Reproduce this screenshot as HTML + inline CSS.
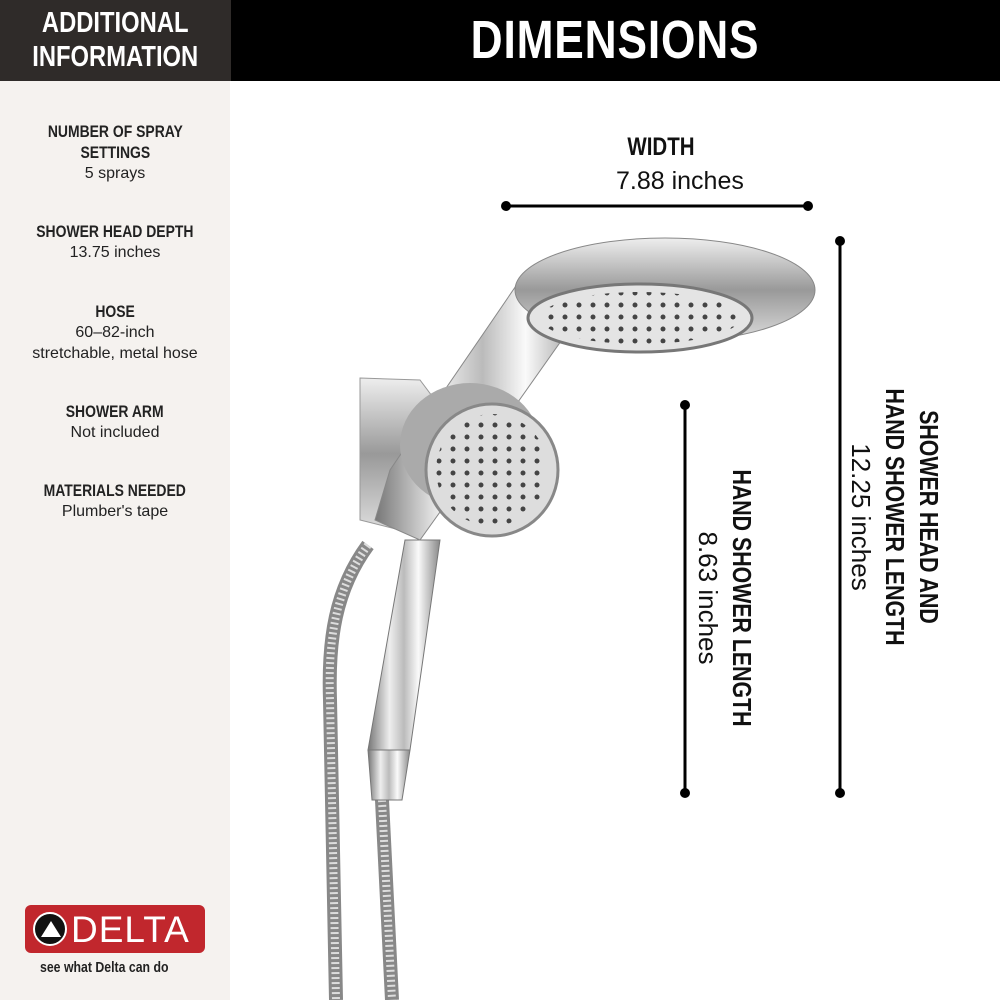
<!DOCTYPE html>
<html><head><meta charset="utf-8"><style>
*{margin:0;padding:0;box-sizing:border-box}
body{width:1000px;height:1000px;position:relative;background:#fff;font-family:"Liberation Sans",sans-serif;overflow:hidden}
.lp{position:absolute;left:0;top:81px;width:230px;height:919px;background:#f5f2ef}
.hl{position:absolute;left:0;top:0;width:231px;height:81px;background:#2f2b29;color:#fff;text-align:center;font-weight:bold;font-size:29px;line-height:34px;padding-top:6px}
.hr{position:absolute;left:231px;top:0;width:769px;height:81px;background:#000;color:#fff;text-align:center;font-weight:bold;font-size:54px;line-height:81px}
.sq{display:inline-block;transform:scaleX(.82)}
.it{position:absolute;left:0;width:230px;text-align:center;font-size:16px;line-height:21px;color:#222}
.it b{display:block;font-size:17px}
.t{position:absolute;white-space:nowrap;color:#111}
</style></head><body>
<div class="hl"><span class="sq">ADDITIONAL<br>INFORMATION</span></div>
<div class="hr"><span class="sq" style="letter-spacing:1px">DIMENSIONS</span></div>
<div class="lp"></div>
<div class="it" style="top:121px"><b><span class="sq">NUMBER OF SPRAY<br>SETTINGS</span></b>5 sprays</div>
<div class="it" style="top:221px"><b><span class="sq">SHOWER HEAD DEPTH</span></b>13.75 inches</div>
<div class="it" style="top:301px"><b><span class="sq">HOSE</span></b>60–82-inch<br>stretchable, metal hose</div>
<div class="it" style="top:401px"><b><span class="sq">SHOWER ARM</span></b>Not included</div>
<div class="it" style="top:480px"><b><span class="sq">MATERIALS NEEDED</span></b>Plumber's tape</div>
<div style="position:absolute;left:25px;top:905px;width:180px;height:48px;background:#c1272d;border-radius:6px"></div>
<div style="position:absolute;left:33px;top:912px;width:34px;height:34px;border-radius:50%;background:#111;border:2px solid #fff"></div>
<div style="position:absolute;left:41px;top:921px;width:0;height:0;border-left:10px solid transparent;border-right:10px solid transparent;border-bottom:16px solid #fff"></div>
<div class="t" style="left:71px;top:909px;font-size:37px;line-height:42px;color:#fff;letter-spacing:1px">DELTA</div>
<div class="t" style="left:40px;top:959px;font-size:15px;font-weight:bold;color:#222"><span class="sq" style="transform-origin:left">see what Delta can do</span></div>

<svg style="position:absolute;left:0;top:0" width="1000" height="1000">
<defs>
<linearGradient id="c" x1="0" y1="0" x2="1" y2="0"><stop offset="0" stop-color="#777"/><stop offset=".3" stop-color="#eee"/><stop offset=".5" stop-color="#bbb"/><stop offset=".7" stop-color="#fafafa"/><stop offset="1" stop-color="#888"/></linearGradient>
<linearGradient id="v" x1="0" y1="0" x2="0" y2="1"><stop offset="0" stop-color="#eee"/><stop offset=".5" stop-color="#999"/><stop offset="1" stop-color="#ddd"/></linearGradient>
<pattern id="dots" width="14" height="12" patternUnits="userSpaceOnUse"><circle cx="5" cy="5" r="2.5" fill="#444"/></pattern>
</defs>
<g stroke="#000" stroke-width="3">
<line x1="506" y1="206" x2="808" y2="206"/><line x1="840" y1="241" x2="840" y2="793"/><line x1="685" y1="405" x2="685" y2="793"/></g>
<g fill="#000"><circle cx="506" cy="206" r="5"/><circle cx="808" cy="206" r="5"/><circle cx="840" cy="241" r="5"/><circle cx="840" cy="793" r="5"/><circle cx="685" cy="405" r="5"/><circle cx="685" cy="793" r="5"/></g>
<path d="M368 545 C335 590 328 640 330 700 L336 1000" stroke="#888" stroke-width="14" fill="none"/>
<path d="M368 545 C335 590 328 640 330 700 L336 1000" stroke="#ddd" stroke-width="8" stroke-dasharray="2 3" fill="none"/>
<path d="M382 800 L392 1000" stroke="#888" stroke-width="14" fill="none"/>
<path d="M382 800 L392 1000" stroke="#ddd" stroke-width="8" stroke-dasharray="2 3" fill="none"/>
<path d="M405 540 L440 540 L410 750 L368 750 Z" fill="url(#c)" stroke="#777"/>
<path d="M368 750 L410 750 L402 800 L372 800 Z" fill="url(#c)" stroke="#777"/>
<path d="M360 378 L420 380 L450 420 L400 530 L360 520 Z" fill="url(#v)" stroke="#999"/>
<path d="M520 280 L590 300 L470 470 L420 540 L375 520 L390 470 Z" fill="url(#c)" stroke="#888"/>
<ellipse cx="665" cy="290" rx="150" ry="52" fill="url(#v)" stroke="#888"/>
<ellipse cx="640" cy="318" rx="112" ry="34" fill="#e4e4e4" stroke="#777" stroke-width="3"/>
<ellipse cx="640" cy="318" rx="100" ry="26" fill="url(#dots)"/>
<ellipse cx="470" cy="445" rx="70" ry="62" fill="#aaa"/>
<circle cx="492" cy="470" r="66" fill="#ddd" stroke="#888" stroke-width="3"/>
<circle cx="492" cy="470" r="56" fill="url(#dots)"/>
</svg>
<div class="t" style="left:620px;top:133px;font-size:25px;font-weight:bold"><span class="sq">WIDTH</span></div>
<div class="t" style="left:616px;top:167px;font-size:25px">7.88 inches</div>
<div class="t" style="left:895px;top:517px;transform:translate(-50%,-50%) rotate(90deg);text-align:center;font-size:26px;line-height:34px"><b><span class="sq">SHOWER HEAD AND<br>HAND SHOWER LENGTH</span></b><br>12.25 inches</div>
<div class="t" style="left:725px;top:598px;transform:translate(-50%,-50%) rotate(90deg);text-align:center;font-size:26px;line-height:34px"><b><span class="sq">HAND SHOWER LENGTH</span></b><br>8.63 inches</div>
</body></html>
